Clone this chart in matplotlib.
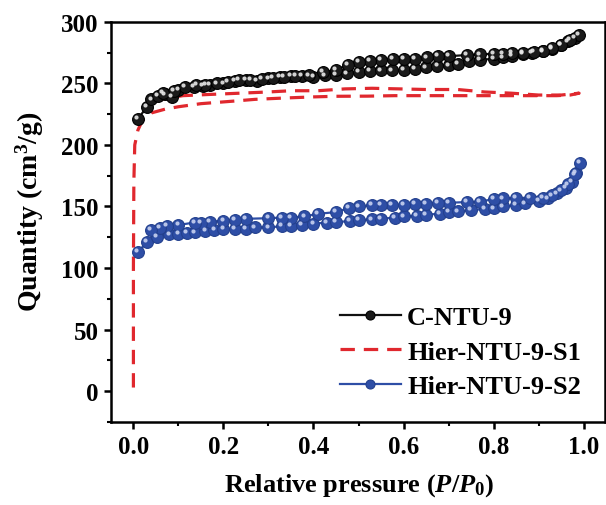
import matplotlib
matplotlib.use('Agg')
import matplotlib.pyplot as plt
from matplotlib.transforms import offset_copy
from matplotlib.ticker import MultipleLocator

plt.rcParams['font.family'] = ['Liberation Serif', 'DejaVu Serif']
plt.rcParams['font.weight'] = 'bold'
plt.rcParams['mathtext.fontset'] = 'custom'
plt.rcParams['mathtext.it'] = 'Liberation Serif:italic:bold'
plt.rcParams['mathtext.rm'] = 'Liberation Serif:bold'

# C-NTU-9 : adsorption then desorption
cntu_ads_p = [0.01, 0.03, 0.04, 0.055, 0.07, 0.085, 0.10, 0.135, 0.155, 0.17, 0.20, 0.225, 0.25, 0.275,
              0.30, 0.325, 0.35, 0.375, 0.40, 0.425, 0.45, 0.475, 0.50, 0.525, 0.55, 0.575, 0.60, 0.625,
              0.65, 0.675, 0.70, 0.72, 0.745, 0.77, 0.80, 0.82, 0.84, 0.865, 0.885, 0.91, 0.93, 0.95,
              0.965, 0.98, 0.99]
cntu_ads_q = [221, 231, 237, 240, 241, 239, 245, 247, 248, 249, 250, 252, 252.5, 252,
              254, 255, 256, 256, 255, 256.5, 257, 258, 259, 260, 260.5, 260.5, 261, 262,
              263, 264, 264.5, 266, 268, 269, 270, 271, 272, 274, 274.5, 276, 278, 281,
              284, 287, 289.5]
cntu_des_p = [0.97, 0.95, 0.93, 0.91, 0.89, 0.865, 0.84, 0.82, 0.80, 0.77, 0.74, 0.70, 0.677, 0.652,
              0.625, 0.60, 0.576, 0.55, 0.525, 0.50, 0.477, 0.45, 0.42, 0.39, 0.36, 0.335, 0.31,
              0.285, 0.26, 0.235, 0.21, 0.185, 0.16, 0.14, 0.115, 0.09, 0.065]
cntu_des_q = [285, 281.5, 278.5, 276.5, 275.5, 275, 274.5, 274, 274, 273.5, 273, 272, 272, 271,
              270, 269.6, 269.6, 268.9, 268, 267.6, 265, 261, 259, 256.5, 256, 255.5, 254.5,
              253.5, 253, 252.5, 251, 250, 249, 248.5, 247, 244, 242]

# Hier-NTU-9-S1
s1_ads_p = [0.0, 0.0, 0.001, 0.003, 0.01, 0.02, 0.04, 0.07, 0.10, 0.15, 0.22, 0.27, 0.33, 0.40, 0.45,
            0.52, 0.58, 0.64, 0.70, 0.76, 0.82, 0.88, 0.94, 0.97, 0.99]
s1_ads_q = [3, 100, 170, 200, 212, 220, 226, 229, 231, 233.5, 235.5, 237, 238, 239, 239.5,
            239.6, 240, 240, 240, 240, 240, 240, 240, 240.5, 242]
s1_des_p = [0.95, 0.90, 0.84, 0.78, 0.72, 0.65, 0.59, 0.53, 0.47, 0.41, 0.35, 0.30, 0.236, 0.17,
            0.11, 0.058, 0.03]
s1_des_q = [240.5, 240.5, 242, 243, 245, 245, 245.5, 246, 245.5, 244, 244, 243, 242, 241,
            240, 237, 234]

# Hier-NTU-9-S2
s2_ads_p = [0.01, 0.03, 0.053, 0.08, 0.10, 0.118, 0.137, 0.16, 0.18, 0.20, 0.225, 0.25, 0.27, 0.30,
            0.33, 0.35, 0.375, 0.40, 0.43, 0.45, 0.48, 0.50, 0.53, 0.55, 0.58, 0.60, 0.63, 0.65,
            0.68, 0.70, 0.72, 0.75, 0.78, 0.80, 0.82, 0.85, 0.87, 0.90, 0.92, 0.94, 0.96, 0.974,
            0.983, 0.992]
s2_ads_q = [113, 121, 125.4, 127.3, 128, 128.6, 129, 130, 131, 131.5, 132, 132, 133, 133,
            134, 134.5, 135, 136, 137, 137.5, 138, 139, 139.5, 140, 141, 142, 142.5, 143.5,
            144, 145.5, 146, 147, 148, 148.5, 150, 151, 152.5, 154.5, 156.5, 160.6, 165, 170,
            177, 185.5]
s2_des_p = [0.98, 0.965, 0.95, 0.93, 0.91, 0.88, 0.85, 0.82, 0.80, 0.77, 0.74, 0.70, 0.677, 0.65,
            0.625, 0.60, 0.575, 0.55, 0.53, 0.50, 0.478, 0.45, 0.41, 0.38, 0.35, 0.33, 0.30, 0.25,
            0.225, 0.20, 0.17, 0.15, 0.136, 0.10, 0.075, 0.058, 0.039]
s2_des_q = [176, 168, 163, 159, 157, 157, 157, 156.5, 156, 154, 153.6, 153, 153, 152.4,
            152, 151.6, 151, 151, 151, 150, 148.6, 145.5, 144, 142, 141, 141, 140.5, 140,
            139, 138.5, 137.6, 137, 137, 135, 134, 132.7, 131]

fig = plt.figure(figsize=(6.06, 5.06), dpi=100)
ax = fig.add_axes([0.183, 0.164, 0.815, 0.791])

black = '#111111'
red = '#e0282e'
blue = '#2e4ea6'

hl = offset_copy(ax.transData, fig=fig, x=-1.3, y=1.3, units='points')

# C-NTU-9
p = cntu_ads_p + cntu_des_p
q = cntu_ads_q + cntu_des_q
l1, = ax.plot(p, q, '-', color=black, lw=1.6, marker='o', ms=8.5, mfc='#1a1a1a', mec='#000000',
              mew=0.8, label='C-NTU-9', zorder=3)
ax.plot(p, q, 'o', color='#e8e8e8', ms=3, mec='none', alpha=0.9, transform=hl, zorder=4)

# Hier-NTU-9-S1
l2, = ax.plot(s1_ads_p + s1_des_p, s1_ads_q + s1_des_q, '--', color=red, lw=2.3,
              dashes=(4.5, 2.8), label='Hier-NTU-9-S1', zorder=2)

# Hier-NTU-9-S2
p = s2_ads_p + s2_des_p
q = s2_ads_q + s2_des_q
l3, = ax.plot(p, q, '-', color=blue, lw=1.6, marker='o', ms=8.5, mfc=blue, mec='#23408e',
              mew=0.8, label='Hier-NTU-9-S2', zorder=3)
ax.plot(p, q, 'o', color='#c8d2f0', ms=3, mec='none', alpha=0.9, transform=hl, zorder=4)

ax.set_xlim(-0.05, 1.047)
ax.set_ylim(-25, 300)
ax.xaxis.set_major_locator(MultipleLocator(0.2))
ax.xaxis.set_minor_locator(MultipleLocator(0.1))
ax.yaxis.set_major_locator(MultipleLocator(50))
ax.yaxis.set_minor_locator(MultipleLocator(25))
ax.xaxis.set_major_formatter(plt.FormatStrFormatter('%.1f'))

for s in ax.spines.values():
    s.set_linewidth(1.8)
ax.tick_params(which='major', direction='out', length=5, width=1.8, labelsize=18, pad=4)
ax.tick_params(which='minor', direction='out', length=3, width=1.5)
for t in ax.get_xticklabels() + ax.get_yticklabels():
    t.set_fontweight('bold')

ax.set_xlabel(r'Relative pressure ($P$/$P_0$)', fontsize=19, fontweight='bold')
ax.set_ylabel(r'Quantity (cm$^{3}$/g)', fontsize=20, fontweight='bold')
ax.xaxis.set_label_coords(0.502, -0.122)
ax.yaxis.set_label_coords(-0.132, 0.528)

leg = ax.legend(handles=[l1, l2, l3], loc='lower right', bbox_to_anchor=(1.0, 0.0),
                frameon=False, handlelength=2.3, handletextpad=0.25,
                labelspacing=0.42, prop={'weight': 'bold', 'size': 19})
for h in leg.legend_handles:
    if h.get_marker() == 'o':
        h.set_markersize(6.5)

fig.savefig('out.png', dpi=100)
